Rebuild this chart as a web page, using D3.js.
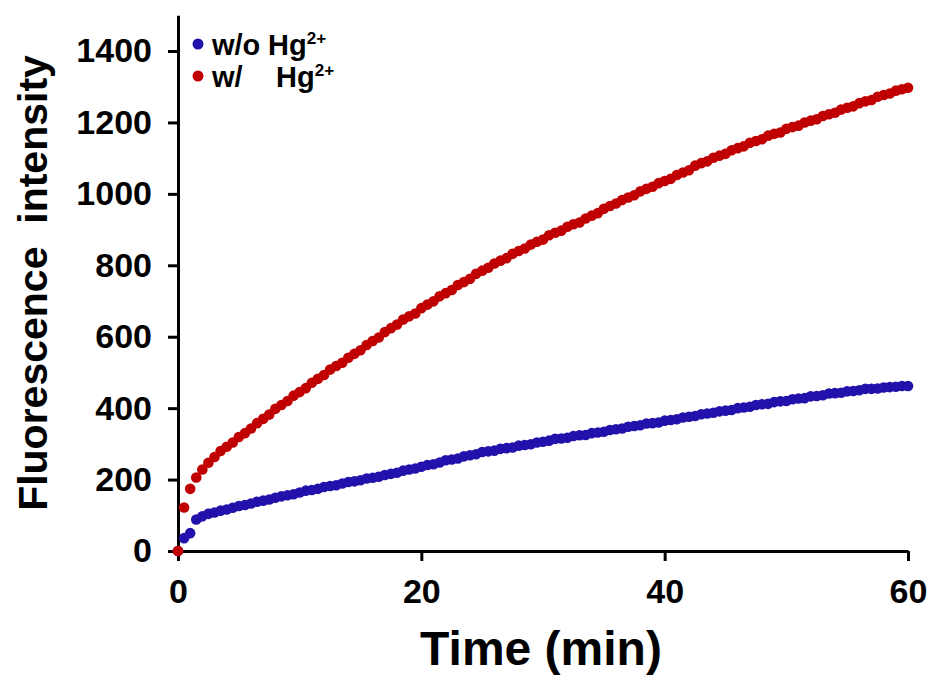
<!DOCTYPE html>
<html>
<head>
<meta charset="utf-8">
<script src="https://cdn.jsdelivr.net/npm/d3@7/dist/d3.min.js"></script>
<style>
    body { margin: 0; background: #fff; }
    text { font-family: Arial, "Liberation Sans", sans-serif; font-weight: bold; fill: #000; }
</style>
</head>
<body>
<div id="graph"></div>
<script>
// time points, every 0.5 min
var time = d3.range(0, 60.01, 0.5);

// w/o Hg2+ (blue)
var withoutHg = [0, 36, 50, 88, 97, 104, 108, 113, 116, 121,
    126, 129, 133, 138, 141, 144, 149, 153, 156, 159,
    164, 169, 171, 174, 179, 182, 184, 189, 193, 195,
    198, 203, 205, 208, 213, 216, 219, 225, 228, 231,
    236, 241, 243, 248, 254, 256, 259, 265, 268, 271,
    277, 279, 281, 286, 288, 290, 295, 297, 299, 304,
    306, 309, 314, 315, 317, 322, 324, 325, 330, 332,
    334, 339, 341, 343, 348, 350, 352, 357, 358, 360,
    365, 367, 369, 374, 376, 378, 383, 385, 387, 391,
    393, 395, 400, 402, 404, 409, 411, 412, 417, 419,
    420, 425, 427, 428, 433, 434, 436, 441, 442, 443,
    447, 448, 450, 454, 454, 455, 458, 459, 460, 462, 462];

// w/ Hg2+ (red)
var withHg = [0, 122, 174, 206, 228, 247, 263, 280, 292, 304,
    319, 330, 343, 358, 370, 382, 398, 409, 420, 435,
    445, 456, 471, 482, 493, 508, 518, 527, 541, 552,
    562, 577, 588, 598, 613, 624, 634, 648, 657, 665,
    680, 690, 699, 713, 722, 731, 745, 753, 762, 776,
    785, 793, 805, 813, 820, 832, 840, 847, 858, 866,
    872, 884, 891, 897, 908, 915, 920, 931, 939, 946,
    958, 966, 973, 983, 990, 996, 1007, 1014, 1020, 1030,
    1036, 1042, 1053, 1060, 1066, 1079, 1086, 1091, 1101, 1107,
    1112, 1122, 1128, 1133, 1143, 1148, 1153, 1163, 1168, 1172,
    1182, 1187, 1191, 1200, 1205, 1209, 1218, 1223, 1227, 1236,
    1241, 1245, 1254, 1259, 1263, 1272, 1277, 1281, 1289, 1293, 1297];

var xTicks = [0, 20, 40, 60];
var yTicks = [0, 200, 400, 600, 800, 1000, 1200, 1400];

var width = 932;
var height = 677;

var svg = d3.select("#graph")
    .append("svg")
    .attr("width", width)
    .attr("height", height);

var x = d3.scaleLinear().domain([0, 60]).range([178, 908]);
var y = d3.scaleLinear().domain([0, 1500]).range([551, 15.3]);

// axes
var xAxis = svg.append("g")
    .attr("transform", "translate(0," + y(0) + ")")
    .call(d3.axisBottom(x).tickValues(xTicks).tickSize(10).tickSizeOuter(0).tickPadding(18)
        .tickFormat(d3.format("d")));

var yAxis = svg.append("g")
    .attr("transform", "translate(" + x(0) + ",0)")
    .call(d3.axisLeft(y).tickValues(yTicks).tickSize(10).tickSizeOuter(0).tickPadding(16)
        .tickFormat(d3.format("d")));

[xAxis, yAxis].forEach(function (a) {
    a.select(".domain").attr("stroke", "#000").attr("stroke-width", 3);
    a.selectAll(".tick line").attr("stroke", "#000").attr("stroke-width", 3);
    a.selectAll(".tick text")
        .attr("fill", "#000")
        .style("font-size", "34px")
        .style("font-family", "Arial, 'Liberation Sans', sans-serif")
        .style("font-weight", "bold");
});

// series points
var series = [
    { name: "w/o", values: withoutHg, color: "#2211AA" },
    { name: "w/", values: withHg, color: "#C00000" }
];

series.forEach(function (s) {
    svg.append("g")
        .selectAll("circle")
        .data(s.values)
        .enter()
        .append("circle")
        .attr("cx", function (d, i) { return x(time[i]); })
        .attr("cy", function (d) { return y(d); })
        .attr("r", 5.3)
        .attr("fill", s.color);
});

// axis titles
svg.append("text")
    .attr("x", 541)
    .attr("y", 665)
    .attr("text-anchor", "middle")
    .style("font-size", "48px")
    .text("Time (min)");

svg.append("text")
    .attr("transform", "translate(47,283) rotate(-90)")
    .attr("text-anchor", "middle")
    .style("font-size", "41px")
    .style("white-space", "pre")
    .attr("xml:space", "preserve")
    .text("Fluorescence  intensity");

// legend
var legendLabels = ["w/o", "w/"];
var legendHgX = [268, 276];
series.forEach(function (s, i) {
    var ly = 44 + i * 32;
    svg.append("circle")
        .attr("cx", 198)
        .attr("cy", ly)
        .attr("r", 5.5)
        .attr("fill", s.color);
    var t = svg.append("text")
        .attr("x", 212)
        .attr("y", ly + 11)
        .style("font-size", "29px");
    t.append("tspan").text(legendLabels[i]);
    t.append("tspan").attr("x", legendHgX[i]).text("Hg");
    t.append("tspan")
        .attr("dy", -11)
        .style("font-size", "17px")
        .text("2+");
});
</script>
</body>
</html>
